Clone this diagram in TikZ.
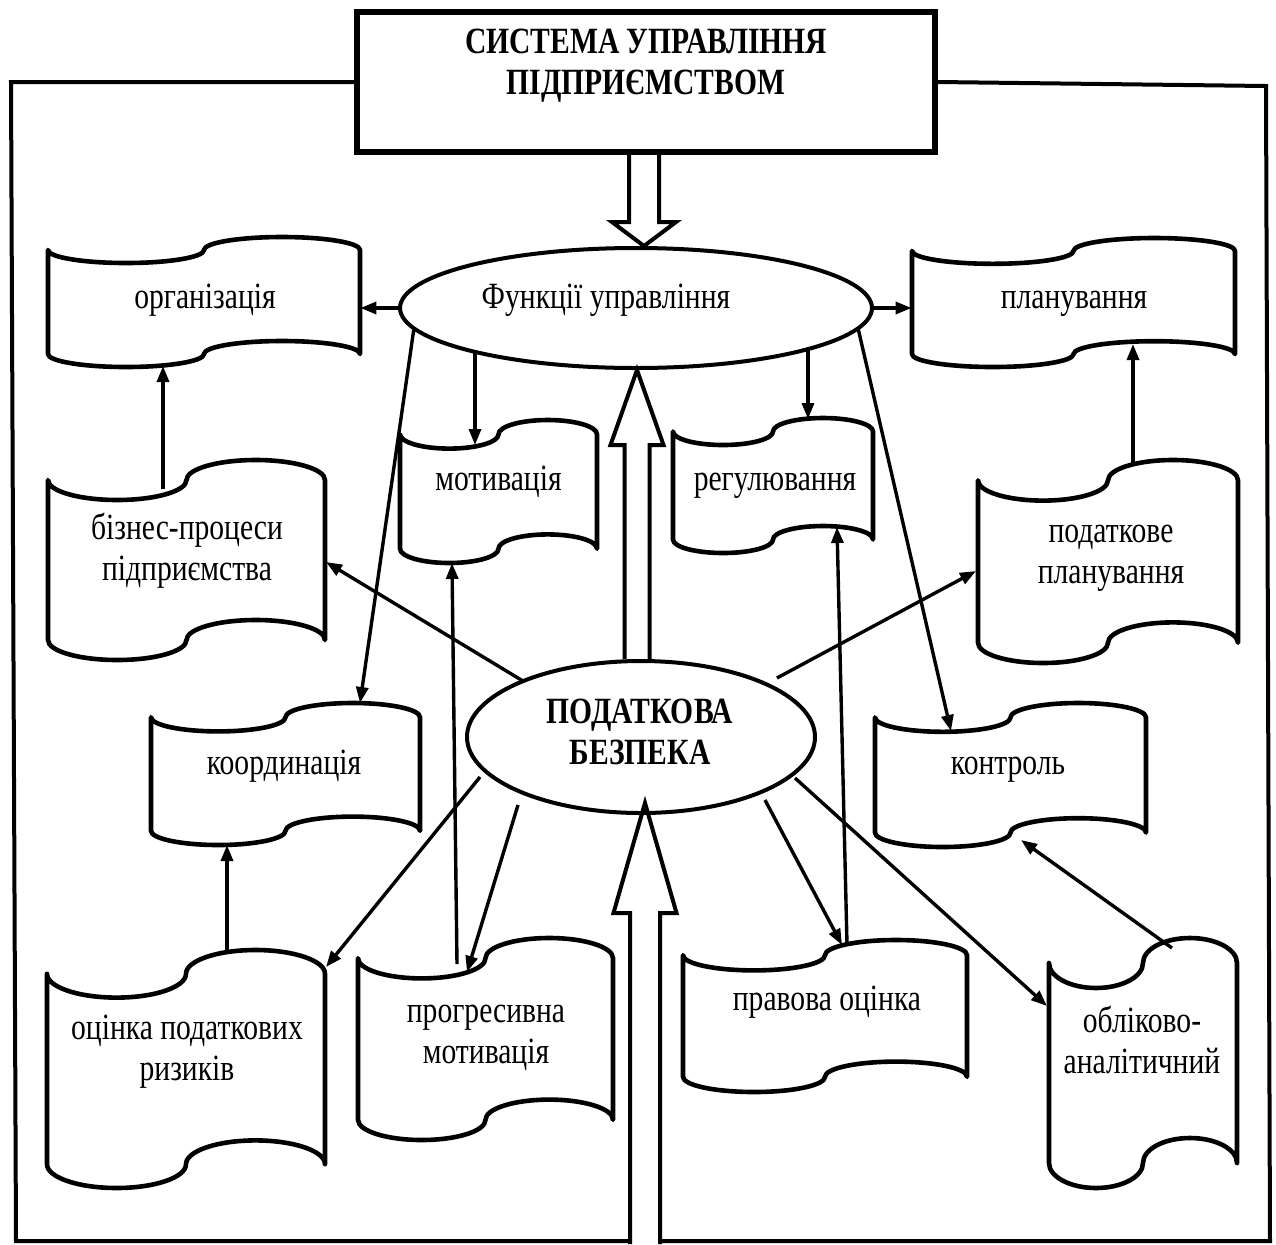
\documentclass[tikz,border=0pt]{standalone}
\usepackage{fontspec}
\setmainfont{Liberation Serif}[FakeStretch=0.80]
\usetikzlibrary{shapes.geometric,calc,arrows.meta}

% one pixel of the drawing grid
\newdimen\pxu \pxu=0.5pt

% text placed with its centre shifted by (#1,#2) grid units from the node centre
\newcommand\shifted[3]{\raisebox{\dimexpr-#2\pxu-4.5pt\relax}[0pt][0pt]{\makebox[0pt]{\kern#1\pxu\kern#1\pxu\begin{tabular}{@{}c@{}}#3\end{tabular}}}}

% punched-tape block: name, x0, x1, y0 (crest), y1 (trough), text dx, text dy, text
\newcommand\tape[8]{%
  \pgfmathsetmacro\tpW{#3-#2}%
  \pgfmathsetmacro\tpH{#5-#4}%
  \pgfmathsetmacro\tpA{\tpH/10}%
  \pgfmathsetmacro\tpR{\tpW/4}%
  \node[tapebox, minimum width=\tpW*\pxu, minimum height=\tpH*\pxu] (#1) at ({(#2+#3)/2},{(#4+#5)/2}) {\shifted{#6}{#7}{#8}};
  \draw[tapeline] (#2,{#4+\tpA})
     arc[start angle=180,end angle=0,x radius=\tpR,y radius=\tpA]
     arc[start angle=180,end angle=360,x radius=\tpR,y radius=\tpA]
     -- (#3,{#5-\tpA})
     arc[start angle=0,end angle=-180,x radius=\tpR,y radius=\tpA]
     arc[start angle=0,end angle=180,x radius=\tpR,y radius=\tpA]
     -- cycle;}

% vertical hollow block arrow from tail #1 to the height of #2
\newcommand\blockarrow[5]{%
  \draw[hollow] let \p1=#1, \p2=#2, \n1={sign(\y2-\y1)} in
    ({\x1-#3},\y1) -- ({\x1-#3},{\y2-\n1*#5}) -- ({\x1-#4},{\y2-\n1*#5}) -- (\x1,\y2)
    -- ({\x1+#4},{\y2-\n1*#5}) -- ({\x1+#3},{\y2-\n1*#5}) -- ({\x1+#3},\y1);}

\begin{document}
\begin{tikzpicture}[x=0.5pt,y=-0.5pt,
  every node/.style={font=\fontsize{18.5pt}{20.5pt}\selectfont, inner sep=0pt},
  tapebox/.style={rectangle, draw=none},
  tapeline/.style={line width=2.3pt, line join=round},
  headbox/.style={rectangle, draw, line width=3pt},
  bold/.style={font=\fontsize{18.5pt}{20.5pt}\selectfont\bfseries},
  arr/.style={line width=1.7pt, -{Triangle[length=8pt,width=6pt]}},
  hollow/.style={line width=2pt, line join=miter},
  frame/.style={line width=2pt, line join=miter}]

\fill[white] (0,0) rectangle (1276,1244);
\useasboundingbox (0,0) rectangle (1276,1244);

% headline block and the two ovals
\node[headbox, bold, minimum width=578*\pxu, minimum height=140*\pxu] (top) at (646,82)
  {\shifted{0}{-17}{СИСТЕМА УПРАВЛІННЯ\\ПІДПРИЄМСТВОМ}};
\node[ellipse, draw, line width=2pt, minimum width=472*\pxu, minimum height=120*\pxu] (fu) at (636,308)
  {\shifted{-30}{-8}{Функції управління}};
\node[ellipse, draw, line width=2pt, bold, minimum width=348*\pxu, minimum height=152*\pxu] (sec) at (641,737)
  {\shifted{-1}{-2}{ПОДАТКОВА\\БЕЗПЕКА}};

% punched-tape blocks
\tape{org}{48}{360}{237}{367}{1}{-2}{організація}
\tape{biz}{48}{325}{460}{660}{0.5}{-9}{бізнес-процеси\\підприємства}
\tape{plan}{912}{1235}{238}{367}{0.5}{-2.5}{планування}
\tape{taxplan}{978}{1238}{460}{663}{3}{-7.5}{податкове\\планування}
\tape{motiv}{400}{597}{420}{563}{0}{-9.5}{мотивація}
\tape{regul}{673}{873}{418}{553}{2}{-3.5}{регулювання}
\tape{coord}{151}{420}{703}{845}{-1.5}{-8}{координація}
\tape{control}{875}{1146}{703}{847}{-2.5}{-9}{контроль}
\tape{risk}{47}{325}{950}{1188}{1}{-18}{оцінка податкових\\ризиків}
\tape{progr}{358}{613}{938}{1140}{0.5}{-5}{прогресивна\\мотивація}
\tape{legal}{683}{967}{940}{1092}{2}{-14}{правова оцінка}
\tape{acct}{1049}{1237}{938}{1188}{-1}{-19}{обліково-\\аналітичний}

% outer frame
\coordinate (base) at (645,1244);
\coordinate (fTL) at (11,82);
\coordinate (fBL) at (16,1241);
\coordinate (fTR) at (1266,86);
\coordinate (fBR) at (1270,1241);
\draw[frame] (top.west) -- (fTL) -- (fBL) -- ($(base)+(-15,-3)$);
\draw[frame] (top.east) -- (fTR) -- (fBR) -- ($(base)+(15,-3)$);

% hollow block arrows
\blockarrow{($(top.south)+(-2,0)$)}{(fu.north)}{7.5pt}{16pt}{12pt}
\blockarrow{($(sec.north)+(-4,0)$)}{(fu.south)}{6.25pt}{13.25pt}{37.5pt}
\blockarrow{(base)}{($(sec.south)+(0,-12)$)}{7.5pt}{15.75pt}{55pt}

% management functions
\draw[arr] (fu.west) -- (fu.west -| org.east);
\draw[arr] (fu.east) -- (fu.east -| plan.west);
\draw[arr] ($(fu.center)+(-161,44)$) -- ($(motiv.center)+(-23.5,-46.5)$);
\draw[arr] ($(fu.center)+(172,42)$) -- ($(regul.center)+(35,-66.5)$);
\draw[arr] ($(fu.center)+(-222,20)$) -- ($(coord.center)+(74.5,-71)$);
\draw[arr] ($(fu.center)+(222,20)$) -- ($(control.center)+(-59.5,-44)$);

% links between the blocks
\draw[arr] ($(biz.center)+(-23.5,-71)$) -- ($(org.center)+(-41,64)$);
\draw[arr] ($(taxplan.center)+(25,-97.5)$) -- ($(plan.center)+(59.5,41.5)$);
\draw[arr] ($(risk.center)+(41,-117)$) -- ($(coord.center)+(-58.5,71)$);
\draw[arr] ($(progr.center)+(-28.5,-75)$) -- ($(motiv.center)+(-46.5,71.5)$);
\draw[arr] ($(legal.center)+(22,-72)$) -- ($(regul.center)+(64,41.5)$);
\draw[arr] ($(acct.center)+(29,-115)$) -- ($(control.center)+(10.5,65)$);

% tax security links
\draw[arr] ($(sec.center)+(-118,-56)$) -- ($(biz.center)+(139.5,2)$);
\draw[arr] ($(sec.center)+(136,-59)$) -- ($(taxplan.center)+(-132,9.5)$);
\draw[arr] ($(sec.center)+(-161,40)$) -- ($(risk.center)+(140,-102)$);
\draw[arr] ($(sec.center)+(-123,68)$) -- ($(progr.center)+(-18.5,-67)$);
\draw[arr] ($(sec.center)+(124,63)$) -- ($(legal.center)+(17,-71)$);
\draw[arr] ($(sec.center)+(154,41)$) -- ($(acct.center)+(-96,-57)$);

\end{tikzpicture}
\end{document}
